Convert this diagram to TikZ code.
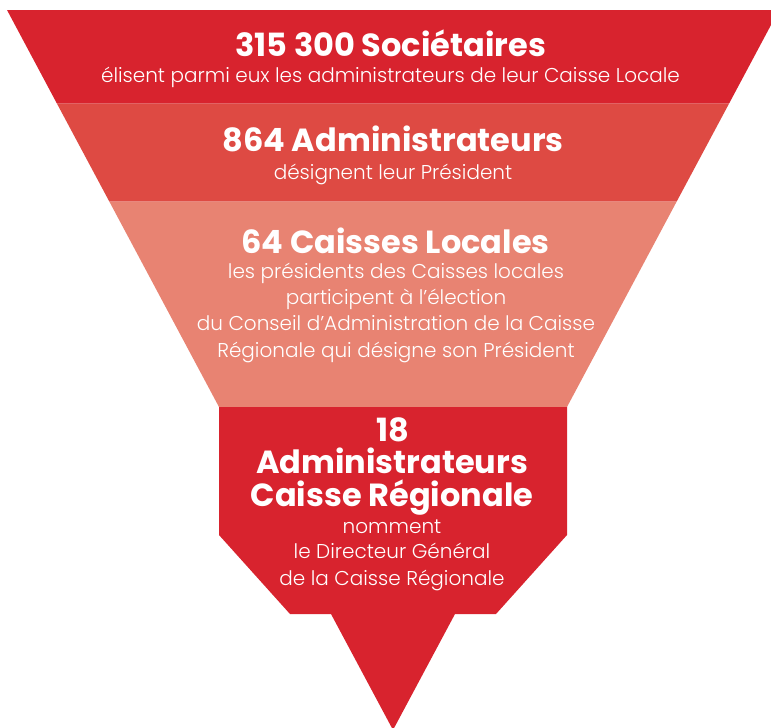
\documentclass[tikz,border=0pt]{standalone}
\usepackage{fontspec}
\setmainfont{Poppins}
\newfontfamily\lightfont{Poppins Light}
\definecolor{crimson}{HTML}{D8232E}
\definecolor{coral}{HTML}{DE4A43}
\definecolor{salmon}{HTML}{E88372}
\tikzset{
  title/.style={text=white, anchor=base, inner sep=0pt, font=\bfseries\fontsize{32}{32}\selectfont},
  sub/.style={text=white, anchor=base, inner sep=0pt, font=\lightfont\fontsize{20}{20}\selectfont},
}
\begin{document}
\begin{tikzpicture}[x=1pt,y=-1pt]
\useasboundingbox (0,0) rectangle (771,728);
\clip (0,0) rectangle (771,728);
% funnel bands
\fill[crimson] (7,10) -- (779,10) -- (729.1,103.5) -- (56.9,103.5) -- cycle;
\fill[coral] (56.9,103.5) -- (729.1,103.5) -- (676.7,201.5) -- (109.3,201.5) -- cycle;
\fill[salmon] (109.3,201.5) -- (676.7,201.5) -- (567,407) -- (219,407) -- cycle;
% spout
\fill[crimson] (219,407) -- (567,407) -- (567,535) -- (496,614) -- (455,614)
  -- (393,730) -- (331,614) -- (290,614) -- (219,535) -- cycle;
% band texts
\node[title] (t1) at (390.5,56) {315 300 Sociétaires};
\node[sub] (s1) at (390.5,82) {élisent parmi eux les administrateurs de leur Caisse Locale};
\node[title] (t2) at (393,151) {864 Administrateurs};
\node[sub] (s2) at (393,179) {désignent leur Président};
\node[title] (t3) at (395.5,253) {64 Caisses Locales};
\node[sub] (s3a) at (396,278) {les présidents des Caisses locales};
\node[sub] (s3b) at (396,304) {participent à l’élection};
\node[sub] (s3c) at (396,330) {du Conseil d’Administration de la Caisse};
\node[sub] (s3d) at (396,357) {Régionale qui désigne son Président};
\node[title] (t4a) at (393,441) {18};
\node[title] (t4b) at (392,473) {Administrateurs};
\node[title] (t4c) at (392,506) {Caisse Régionale};
\node[sub] (s4a) at (392,533) {nomment};
\node[sub] (s4b) at (392,558) {le Directeur Général};
\node[sub] (s4c) at (392,585) {de la Caisse Régionale};
\end{tikzpicture}
\end{document}
